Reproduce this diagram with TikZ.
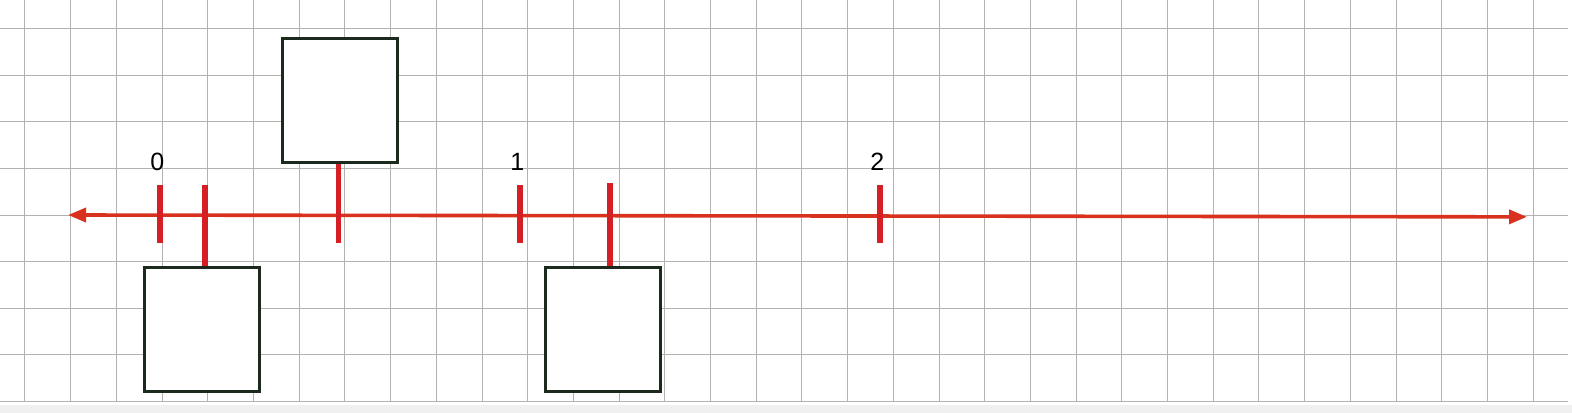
\documentclass[tikz,border=0pt]{standalone}
\usepackage{fontspec}
\setmainfont{Liberation Sans}
\usetikzlibrary{arrows.meta}

\definecolor{linered}{RGB}{216,50,30}
\definecolor{tickred}{RGB}{212,32,36}
\definecolor{boxgreen}{RGB}{28,42,30}
\definecolor{gridgray}{RGB}{178,178,174}

\tikzset{
	gridline/.style={gridgray, line width=0.5pt},
	tickmark/.style={tickred, line width=2.6pt},
	blank/.style={draw=boxgreen, fill=white, line width=1.5pt,
		minimum width=57.5pt, minimum height=62pt, inner sep=0pt},
	numlabel/.style={font=\fontsize{12.5}{15}\selectfont, inner sep=0pt}
}

\begin{document}
\begin{tikzpicture}[x=22.5pt, y=23.3pt]
				
				% size of the sheet
				\useasboundingbox (-3.5556,-4.2489) rectangle (31.3778,4.6137);
				\fill[white] (-3.5556,-4.2489) rectangle (31.3778,4.6137);
				\fill[gray!12] (-3.5556,-4.2489) rectangle (31.3778,-4.07);
				
				% --- Squared paper ---
				\foreach \j in {-4,...,4} {
					\draw[gridline] (-3.5556,\j) -- (31.29,\j);
				}
				\foreach \k in {0,...,33} {
					\pgfmathsetmacro{\gx}{-3 + 1.0156*\k}
					\draw[gridline] (\gx,4.6137) -- (\gx,-4);
				}
				
				% --- Number line ---
				\coordinate (west) at (-2.044,0);
				\coordinate (east) at (30.378,-0.04);
				\draw[linered, line width=1.8pt,
				{Triangle[length=9pt,width=7pt]}-{Triangle[length=9pt,width=7pt]}]
				(west) -- (east);
				
				% --- Blanks to fill in ---
				\node[blank] (boxA) at (0.933,-2.457) {};
				\node[blank] (boxB) at (4.0,2.457) {};
				\node[blank] (boxC) at (9.844,-2.457) {};
				
				% --- Unit marks 0, 1, 2 ---
				\foreach \n in {0,1,2} {
					\coordinate (top\n) at (8*\n,0.64);
					\coordinate (bot\n) at (8*\n,-0.60);
					\draw[tickmark] (top\n) -- (bot\n);
					\node[numlabel] (lab\n) at (8*\n-0.06,1.14) {\n};
				}
				
				% --- Marks pointing to the blanks ---
				\coordinate (markA) at (1,0.64);
				\draw[tickmark] (markA) -- (markA |- boxA.north);
				
				\coordinate (markB) at (3.96,-0.60);
				\draw[tickmark] (markB) -- (markB |- boxB.south);
				
				\coordinate (markC) at (10,0.68);
				\draw[tickmark] (markC) -- (markC |- boxC.north);
				
\end{tikzpicture}
\end{document}
